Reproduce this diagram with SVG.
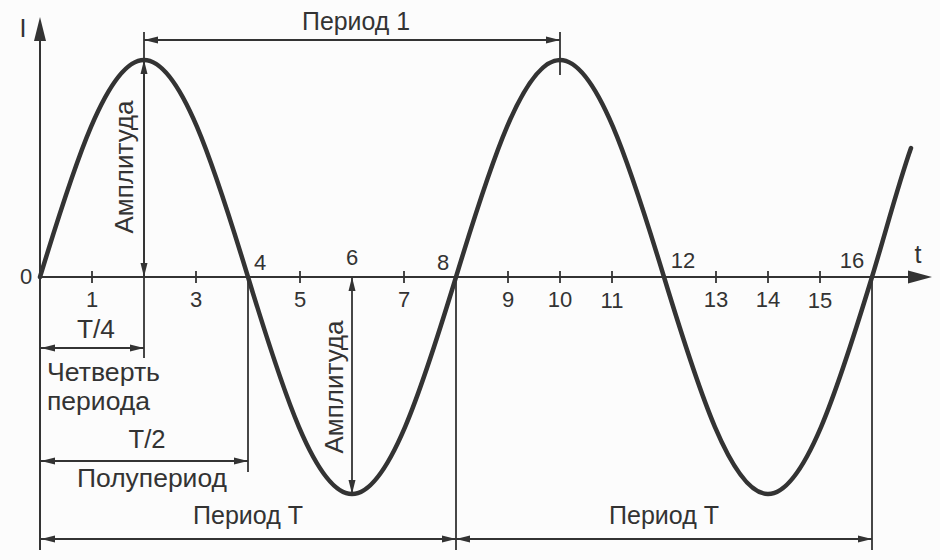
<svg xmlns="http://www.w3.org/2000/svg" width="940" height="560" viewBox="0 0 940 560">
<defs>
<style>
.ln{stroke:#333;stroke-width:1.8;fill:none}
.ax{stroke:#333;stroke-width:2;fill:none}
.tk{stroke:#333;stroke-width:1.8}
.crv{stroke:#333;stroke-width:4.5;fill:none;stroke-linecap:round}
.lbl{font-family:"Liberation Sans",Arial,sans-serif;font-size:25px;fill:#333}
.num{font-family:"Liberation Sans",Arial,sans-serif;font-size:22px;fill:#333;text-anchor:middle}
.mid{text-anchor:middle}
</style>
<marker id="ar" viewBox="0 0 14 8" refX="14" refY="4" markerWidth="14" markerHeight="8" markerUnits="userSpaceOnUse" orient="auto-start-reverse">
<path d="M0,0.5 L14,4 L0,7.5 z" fill="#333"/>
</marker>
</defs>
<rect width="940" height="560" fill="#fcfcfc"/>

<g id="axes">
<line class="ax" x1="40" y1="550" x2="40" y2="36"/>
<polygon points="40,17 34,41 46,41" fill="#333"/>
<line class="ax" x1="40" y1="277" x2="912" y2="277"/>
<polygon points="932,277 908,270.5 908,283.5" fill="#333"/>
<g id="ticks">
<line class="tk" x1="92" y1="271" x2="92" y2="283"/>
<line class="tk" x1="196" y1="271" x2="196" y2="283"/>
<line class="tk" x1="300" y1="271" x2="300" y2="283"/>
<line class="tk" x1="404" y1="271" x2="404" y2="283"/>
<line class="tk" x1="508" y1="271" x2="508" y2="283"/>
<line class="tk" x1="560" y1="271" x2="560" y2="283"/>
<line class="tk" x1="612" y1="271" x2="612" y2="283"/>
<line class="tk" x1="716" y1="271" x2="716" y2="283"/>
<line class="tk" x1="768" y1="271" x2="768" y2="283"/>
<line class="tk" x1="820" y1="271" x2="820" y2="283"/>
</g>
<text class="lbl mid" x="23" y="37" font-size="23">I</text>
<text class="num" x="26" y="284">0</text>
<text class="lbl mid" x="918" y="263" font-size="23">t</text>
</g>

<g id="numbers">
<text class="num" x="92" y="307">1</text>
<text class="num" x="196" y="307">3</text>
<text class="num" x="300" y="307">5</text>
<text class="num" x="404" y="307">7</text>
<text class="num" x="508" y="307">9</text>
<text class="num" x="560" y="307">10</text>
<text class="num" x="612" y="308">11</text>
<text class="num" x="716" y="307">13</text>
<text class="num" x="768" y="307">14</text>
<text class="num" x="820" y="308">15</text>
<text class="num" x="260" y="270">4</text>
<text class="num" x="352" y="265">6</text>
<text class="num" x="443" y="270">8</text>
<text class="num" x="683" y="268">12</text>
<text class="num" x="852" y="268">16</text>
</g>

<g id="sine">
<path class="crv" d="M40,277 C73.8,166.1 107.5,60 144,60 C180.5,60 214.2,166.1 248,277 C281.8,387.9 315.5,494 352,494 C388.5,494 422.2,387.9 456,277 C489.8,166.1 523.5,60 560,60 C596.5,60 630.2,166.1 664,277 C697.8,387.9 731.5,494 768,494 C804.5,494 838.2,387.9 872,277 C885,234.4 898,185 911,148"/>
</g>

<g id="connectors">
<line class="ln" x1="144" y1="32" x2="144" y2="358"/>
<line class="ln" x1="144" y1="60" x2="144" y2="277" marker-start="url(#ar)" marker-end="url(#ar)"/>
<line class="ln" x1="144" y1="40" x2="560" y2="40" marker-start="url(#ar)" marker-end="url(#ar)"/>
<line class="ln" x1="560" y1="32" x2="560" y2="75"/>
<line class="ln" x1="41" y1="348" x2="144" y2="348" marker-start="url(#ar)" marker-end="url(#ar)"/>
<line class="ln" x1="248" y1="277" x2="248" y2="472"/>
<line class="ln" x1="41" y1="461" x2="248" y2="461" marker-start="url(#ar)" marker-end="url(#ar)"/>
<line class="ln" x1="352" y1="277" x2="352" y2="494" marker-start="url(#ar)" marker-end="url(#ar)"/>
<line class="ln" x1="456" y1="277" x2="456" y2="550"/>
<line class="ln" x1="872" y1="277" x2="872" y2="550"/>
<line class="ln" x1="41" y1="539" x2="456" y2="539" marker-start="url(#ar)" marker-end="url(#ar)"/>
<line class="ln" x1="456" y1="539" x2="872" y2="539" marker-start="url(#ar)" marker-end="url(#ar)"/>
</g>

<g id="labels">
<text class="lbl mid" x="356" y="30" textLength="108" lengthAdjust="spacingAndGlyphs">Период 1</text>
<text class="lbl mid" transform="translate(133,167) rotate(-90)" textLength="133" lengthAdjust="spacingAndGlyphs">Амплитуда</text>
<text class="lbl mid" transform="translate(343,387) rotate(-90)" textLength="133" lengthAdjust="spacingAndGlyphs">Амплитуда</text>
<text class="lbl mid" x="96" y="338" textLength="38" lengthAdjust="spacingAndGlyphs">T/4</text>
<text class="lbl" x="47" y="381" textLength="113" lengthAdjust="spacingAndGlyphs">Четверть</text>
<text class="lbl" x="47" y="410" textLength="103" lengthAdjust="spacingAndGlyphs">периода</text>
<text class="lbl mid" x="147" y="448" textLength="37" lengthAdjust="spacingAndGlyphs">T/2</text>
<text class="lbl mid" x="152" y="487" textLength="150" lengthAdjust="spacingAndGlyphs">Полупериод</text>
<text class="lbl mid" x="248" y="524" textLength="110" lengthAdjust="spacingAndGlyphs">Период T</text>
<text class="lbl mid" x="664" y="524" textLength="110" lengthAdjust="spacingAndGlyphs">Период T</text>
</g>
</svg>
